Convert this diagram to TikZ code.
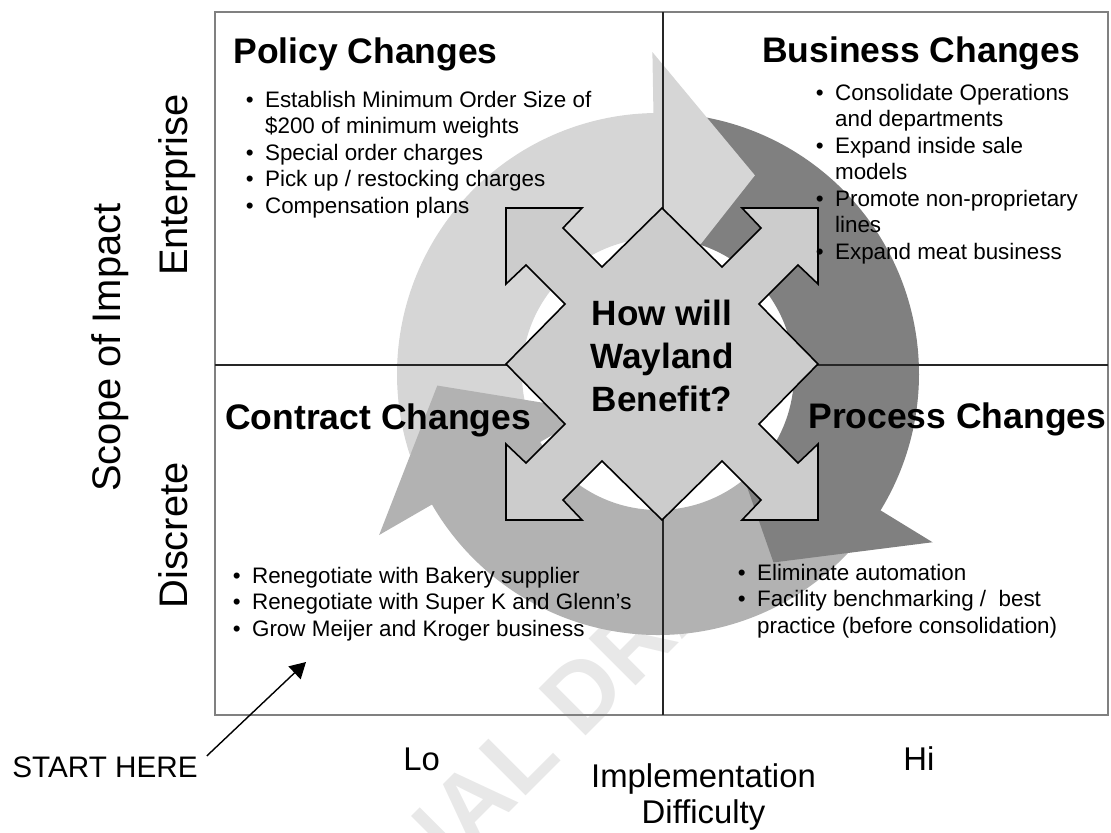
\documentclass[tikz,border=0pt]{standalone}
\usepackage{fontspec}
\setmainfont{Liberation Sans}
\usetikzlibrary{arrows.meta}

\definecolor{policygray}{gray}{0.84}
\definecolor{businessgray}{gray}{0.50}
\definecolor{contractgray}{gray}{0.70}
\definecolor{hubgray}{gray}{0.80}
\definecolor{framegray}{gray}{0.50}
\definecolor{markgray}{gray}{0.91}

\newcommand{\bulletlist}[1]{\begin{tabular}[t]{@{}l@{\hspace{6.5pt}}l@{}}#1\end{tabular}}

\tikzset{
  quad title/.style = {anchor = base west, inner sep = 0, font = \fontsize{20.2}{24}\selectfont\bfseries},
  quad list/.style  = {anchor = base west, inner sep = 0, font = \fontsize{12.75}{15.1}\selectfont},
  axis label/.style = {anchor = base, inner sep = 0, rotate = 90, font = \fontsize{22.7}{27}\selectfont},
  level label/.style = {anchor = base west, inner sep = 0, font = \fontsize{18.7}{20.4}\selectfont},
  hub/.style = {fill = hubgray, draw = black, line width = 0.9pt, line join = miter},
  divider/.style = {draw = black!85, line width = 0.6pt}
}

\begin{document}
\begin{tikzpicture}[x = 0.02cm, y = -0.02cm, >=latex]
  \useasboundingbox (0,0) rectangle (1111,832);

  % faint stamp behind everything
  \node[rotate = 45, inner sep = 0, text = markgray, font = \fontsize{55}{60}\selectfont\bfseries] (draft mark) at (564,711) {FINAL DRAFT};

  % the three cycle arrows: bodies first, heads on top
  \begin{scope}[shift = {(658,374)}]
    \foreach \col/\tail/\back in {policygray/162/269, businessgray/278/391.5, contractgray/43/150}
      \fill[\col] (\tail:261) arc[start angle = \tail, end angle = \back + 1, radius = 261]
        -- ({\back + 1}:136) arc[start angle = \back + 1, end angle = \tail, radius = 136] -- cycle;
    \foreach \col/\back/\tip in {policygray/269/296, businessgray/391.5/418.5, contractgray/150/177}
      \fill[\col] (\back:322) -- (\tip:221) -- (\back:74) -- cycle;
  \end{scope}

  % quadrant grid
  \draw[framegray, line width = 1.2pt] (215,12) rectangle (1108,715);
  \draw[divider] (663,12) -- (663,715);
  \draw[divider] (215,365) -- (1108,365);

  % four-way arrow in the middle
  \begin{scope}[shift = {(662,364)}]
    \draw[hub] (-90:156) \foreach \r in {0,90,180,270} {
        -- ({\r-58.26}:114.06) -- ({\r-53.94}:168.22) -- ({\r-62.85}:175.32)
        -- ({\r-45}:220.62) -- ({\r-27.15}:175.32) -- ({\r-36.06}:168.22)
        -- ({\r-31.74}:114.06) -- (\r:156)} -- cycle;
  \end{scope}
  \node[align = center, inner sep = 0, font = \fontsize{20}{24.7}\selectfont\bfseries] (benefit) at (662,356) {How will\\Wayland\\Benefit?};

  % quadrant titles
  \node[quad title] (policy) at (233,63) {Policy Changes};
  \node[quad title] (business) at (762,62) {Business Changes};
  \node[quad title] (contract) at (225,429) {Contract Changes};
  \node[quad title] (process) at (808,428) {Process Changes};

  % quadrant items
  \node[quad list] (policy items) at (245.5,107) {\bulletlist{
    \textbullet & Establish Minimum Order Size of\\
                & \$200 of minimum weights\\
    \textbullet & Special order charges\\
    \textbullet & Pick up / restocking charges\\
    \textbullet & Compensation plans}};
  \node[quad list] (business items) at (815.5,100) {\bulletlist{
    \textbullet & Consolidate Operations\\
                & and departments\\
    \textbullet & Expand inside sale\\
                & models\\
    \textbullet & Promote non-proprietary\\
                & lines\\
    \textbullet & Expand meat business}};
  \node[quad list] (contract items) at (232.5,583) {\bulletlist{
    \textbullet & Renegotiate with Bakery supplier\\
    \textbullet & Renegotiate with Super K and Glenn’s\\
    \textbullet & Grow Meijer and Kroger business}};
  \node[quad list] (process items) at (737.5,580) {\bulletlist{
    \textbullet & Eliminate automation\\
    \textbullet & Facility benchmarking / \ best\\
                & practice (before consolidation)}};

  % axes
  \node[axis label] (scope) at (120,347.5) {Scope of Impact};
  \node[axis label] (enterprise) at (187,185) {Enterprise};
  \node[axis label] (discrete) at (187,535.5) {Discrete};
  \node[level label] (lo) at (403,770) {Lo};
  \node[level label] (hi) at (903,770) {Hi};
  \node[align = center, inner sep = 0, font = \fontsize{18.7}{20.4}\selectfont] (difficulty) at (703.5,797) {Implementation\\Difficulty};

  % entry point
  \node[anchor = base west, inner sep = 0, font = \fontsize{16.9}{20}\selectfont] (start) at (12,777) {START HERE};
  \coordinate (start tip) at (306,662);
  \draw[-{Triangle[length = 9pt, width = 10pt]}, line width = 0.8pt] ([xshift = 5pt]start.north east) -- (start tip);
\end{tikzpicture}
\end{document}
